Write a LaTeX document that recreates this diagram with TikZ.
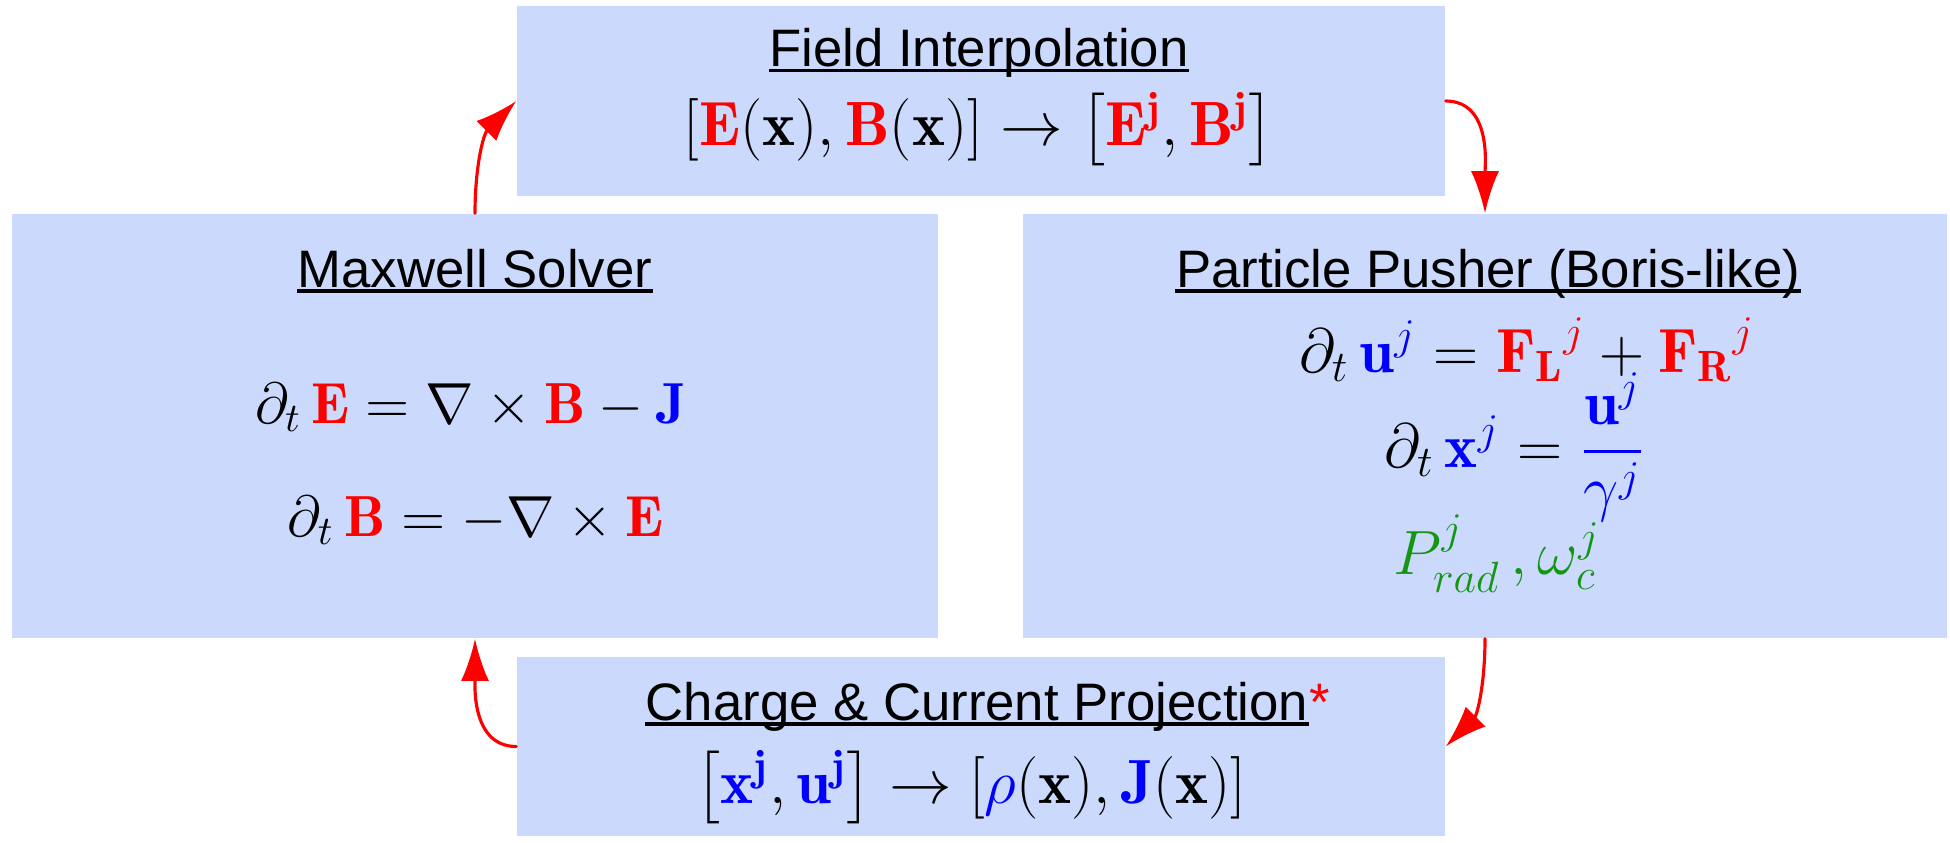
\RequirePackage{fix-cm}
\documentclass[tikz,border=0pt]{standalone}
\usepackage{amsmath}
\usepackage{fontspec}
\newfontfamily\headfont{Liberation Sans}
\usetikzlibrary{arrows.meta}
\definecolor{boxblue}{RGB}{202,217,252}
\definecolor{radgreen}{RGB}{20,150,20}

\begin{document}
\begin{tikzpicture}[line cap=round,line join=round,
  stage/.style={fill=boxblue,inner sep=0pt},
  head/.style={font=\headfont\fontsize{15}{18}\selectfont,inner sep=0pt,anchor=base},
  eq/.style={font=\fontsize{17.8}{21}\selectfont,inner sep=0pt,anchor=base},
  maxeq/.style={eq,font=\fontsize{16.5}{20}\selectfont},
  flow/.style={draw=red,line width=0.9pt,-{Latex[length=12pt,width=8pt]}}]
  \useasboundingbox (0,0) rectangle (19.5,-8.42);
  % the four stages
  \node[stage,minimum width=9.28cm,minimum height=1.90cm] (interp) at (9.81,-1.01) {};
  \node[stage,minimum width=9.26cm,minimum height=4.24cm] (maxw) at (4.75,-4.26) {};
  \node[stage,minimum width=9.24cm,minimum height=4.24cm] (push) at (14.85,-4.26) {};
  \node[stage,minimum width=9.28cm,minimum height=1.79cm] (proj) at (9.81,-7.465) {};
  % titles
  \node[head] (interpT) at (9.79,-0.667) {Field Interpolation};
  \node[head] (maxwT) at (4.75,-2.87) {Maxwell Solver};
  \node[head] (pushT) at (14.88,-2.87) {Particle Pusher (Boris-like)};
  \node[head] (projT) at (9.77,-7.20) {Charge \& Current Projection};
  \node[head,anchor=base west,text=red] (projS) at (projT.base east) {*};
  \foreach \t in {interpT,maxwT,pushT,projT} {
    \draw[line width=1pt,line cap=butt] ([yshift=-1.1pt]\t.base west) -- ([yshift=-1.1pt]\t.base east);
  }
  % equations
  \node[eq] (interpE) at (9.79,-1.45)
    {$\left[{\color{red}\mathbf{E}}(\mathbf{x}),{\color{red}\mathbf{B}}(\mathbf{x})\right]\rightarrow\left[{\color{red}\mathbf{E}^{\mathbf{j}}},{\color{red}\mathbf{B}^{\mathbf{j}}}\right]$};
  \node[maxeq] (maxwE) at (4.71,-4.23)
    {$\partial_t\,{\color{red}\mathbf{E}}=\nabla\times{\color{red}\mathbf{B}}-{\color{blue}\mathbf{J}}$};
  \node[maxeq] (maxwB) at (4.76,-5.36)
    {$\partial_t\,{\color{red}\mathbf{B}}=-\nabla\times{\color{red}\mathbf{E}}$};
  \node[eq] (pushU) at (15.27,-3.72)
    {$\partial_t\,{\color{blue}\mathbf{u}^j}={\color{red}{\mathbf{F}_{\mathbf{L}}}^j}+{\color{red}{\mathbf{F}_{\mathbf{R}}}^j}$};
  \node[eq] (pushX) at (15.15,-4.67)
    {$\partial_t\,{\color{blue}\mathbf{x}^j}={\color{blue}\dfrac{\mathbf{u}^j}{\gamma^j}}$};
  \node[eq] (pushP) at (14.97,-5.74)
    {${\color{radgreen}P^j_{rad}\,,\omega^j_c}$};
  \node[eq] (projE) at (9.71,-8.03)
    {$\left[{\color{blue}\mathbf{x}^{\mathbf{j}}},{\color{blue}\mathbf{u}^{\mathbf{j}}}\right]\rightarrow[{\color{blue}\rho}(\mathbf{x}),{\color{blue}\mathbf{J}}(\mathbf{x})]$};
  % the cycle
  \draw[flow] (proj.west) to[out=180,in=-90] (maxw.south);
  \draw[flow] (maxw.north) to[out=90,in=225] (interp.west);
  \draw[flow] (interp.east) to[out=0,in=90] (push.north);
  \draw[flow] (push.south) to[out=-90,in=45] (proj.east);
\end{tikzpicture}
\end{document}
